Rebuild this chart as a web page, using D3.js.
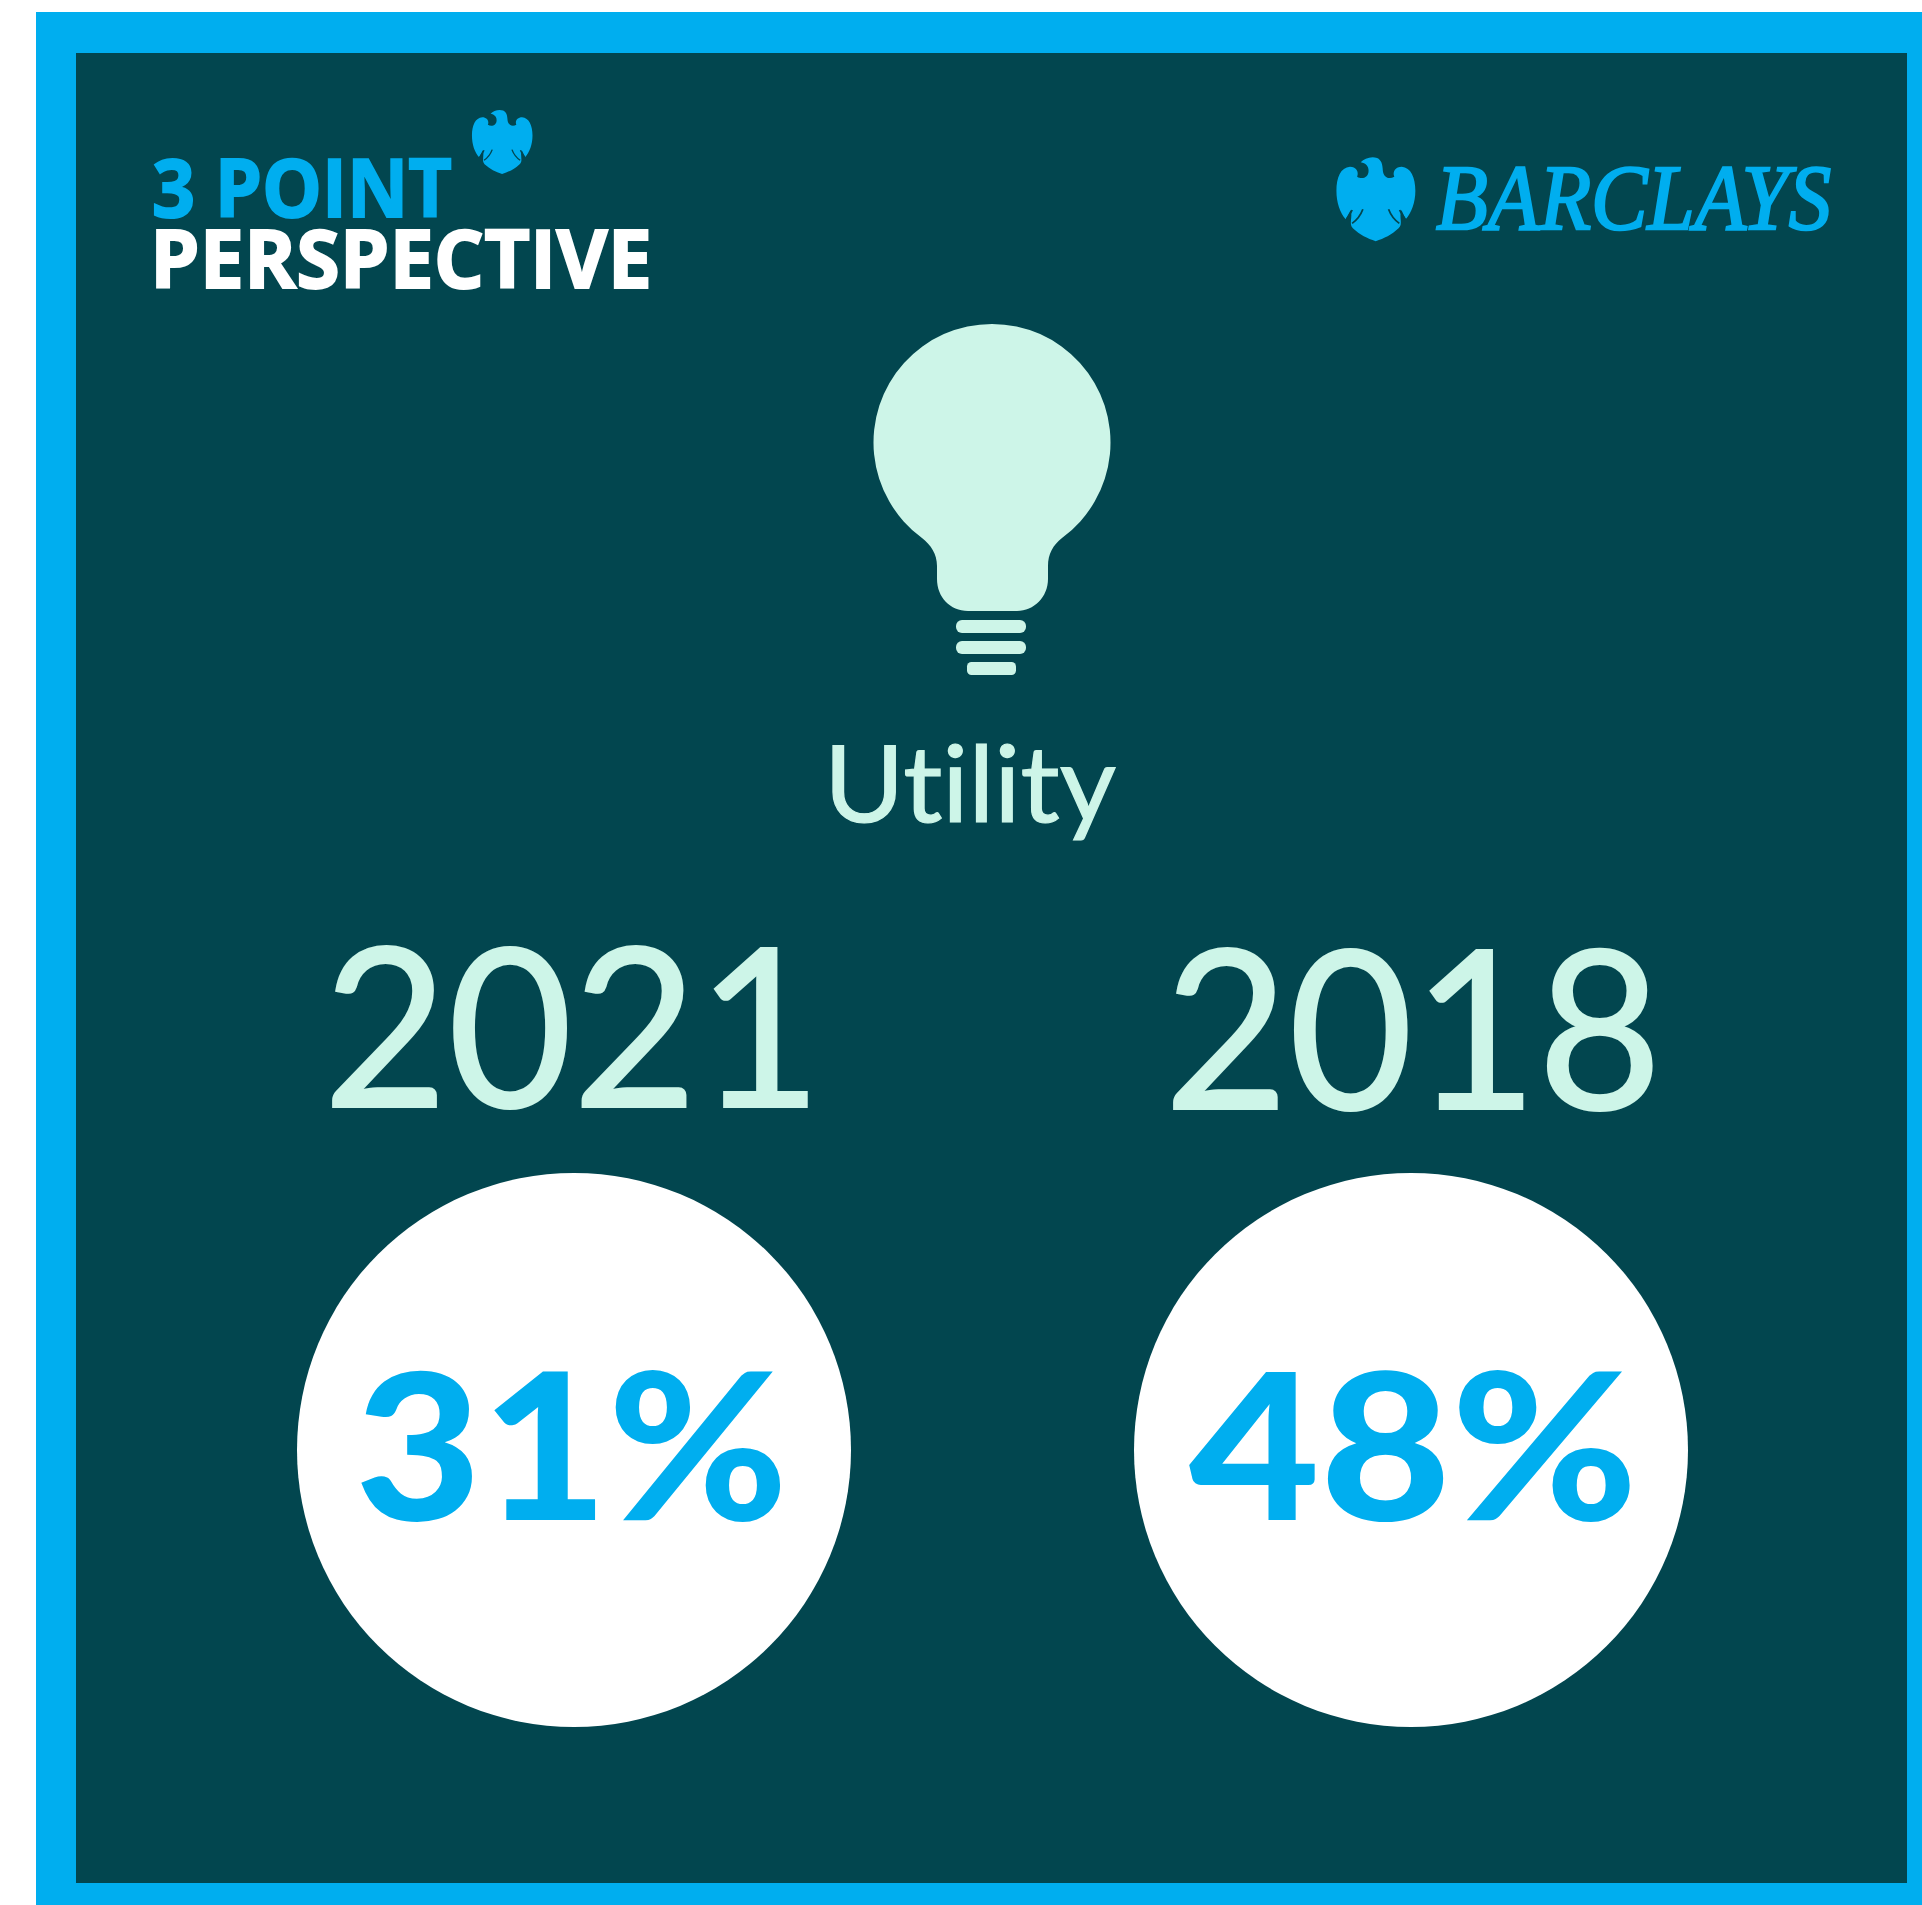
<!DOCTYPE html>
<html lang="en">
<head>
  <meta charset="UTF-8">
  <title>Utility</title>
  <script src="https://d3js.org/d3.v7.min.js"></script>
  <style>
    html, body { margin: 0; padding: 0; background: #fff; overflow: hidden; }
    svg { display: block; }
    text { font-variant-ligatures: none; font-kerning: normal; }
  </style>
</head>
<body>
  <script>
    const width = 1922, height = 1905;

    const category = 'Utility';
    const years = ['2021', '2018'];
    const shares = [31, 48];

    const blue = '#00aeef', dark = '#02464f', mint = '#cdf5e8';

    const svg = d3.select('body').append('svg')
      .attr('width', width)
      .attr('height', height)
      .style('background', '#fff');

    // frame
    svg.append('rect').attr('x', 36).attr('y', 12).attr('width', width - 36).attr('height', height - 12).attr('fill', blue);
    svg.append('rect').attr('x', 76).attr('y', 53).attr('width', 1831).attr('height', 1830).attr('fill', dark);

    const eagle = 'M170 97C180 86 198 78 216 84C228 90 231 102 232 122C234 142 250 150 264 140C258 124 268 110 285 110C310 112 323 142 323 182C323 218 312 248 296 268L284 240C276 262 290 282 276 295C256 315 236 325 212 334C188 325 168 315 148 295C136 282 148 262 142 240L128 268C112 248 102 218 102 182C102 142 114 112 140 110C156 110 166 124 160 140C174 150 192 142 192 122C192 108 184 100 170 97Z';
    const cuts = ['M130 268C138 255 142 250 146 240', 'M146 280C160 270 170 255 176 238', 'M295 268C287 255 283 250 279 240', 'M278 280C264 270 254 255 248 238'];

    function drawEagle(tx, ty, kx, ky) {
      const g = svg.append('g').attr('transform', `translate(${tx},${ty}) scale(${kx},${ky})`);
      g.append('path').attr('d', eagle).attr('fill', blue);
      g.selectAll('path.cut').data(cuts).join('path').attr('class', 'cut')
        .attr('d', d => d).attr('fill', 'none').attr('stroke', dark).attr('stroke-width', 5);
    }
    drawEagle(1300, 130, 1 / 2.8, 1 / 3);
    drawEagle(444, 89.2, 0.274, 0.254);

    function fitText(parent, txt, x0, x1, base, size, family, weight, fill, style, thick) {
      return parent.append('text')
        .attr('x', x0).attr('y', base)
        .attr('textLength', x1 - x0).attr('lengthAdjust', 'spacingAndGlyphs')
        .attr('font-family', family).attr('font-size', size).attr('font-weight', weight)
        .attr('font-style', style || 'normal').attr('fill', fill)
        .attr('stroke', thick ? fill : 'none').attr('stroke-width', thick || 0)
        .text(txt);
    }

    // logos
    fitText(svg, '3 POINT', 152, 452, 217, 81, '"Open Sans"', 700, blue, null, 2);
    fitText(svg, 'PERSPECTIVE', 150, 652, 288, 81, '"Open Sans"', 700, '#fff', null, 2);
    fitText(svg, 'BARCLAYS', 1436, 1831, 229, 94, '"Liberation Serif"', 400, blue, 'italic', 2.5);

    // bulb
    const bulb = svg.append('g').attr('fill', mint);
    bulb.append('path').attr('d', 'M922 538A118.5 118.5 0 1 1 1062 538C1053 545 1048 554 1048 566L1048 579C1048 597 1034 611 1017 611L968 611C950 611 937 597 937 579L937 566C937 554 931 545 922 538Z');
    bulb.append('rect').attr('x', 956).attr('y', 620).attr('width', 70).attr('height', 13).attr('rx', 6);
    bulb.append('rect').attr('x', 956).attr('y', 641).attr('width', 70).attr('height', 13).attr('rx', 6);
    bulb.append('rect').attr('x', 967).attr('y', 662).attr('width', 49).attr('height', 13).attr('rx', 4.5);

    fitText(svg, category, 824, 1116, 822, 106, 'Lato', 400, mint, null, 1.2);

    // year columns
    const x = d3.scalePoint().domain(years).range([574, 1411]);
    const r = 277;
    const cy = 1450;
    const yearSpan = [[323, 822], [1164, 1662]];
    const yearBase = [1107, 1109];
    const shareSpan = [[355, 788], [1189, 1638]];

    const col = svg.selectAll('g.col').data(years).join('g').attr('class', 'col');

    col.append('circle')
      .attr('cx', d => x(d)).attr('cy', cy).attr('r', r).attr('fill', '#fff');

    col.each(function (d, i) {
      const g = d3.select(this);
      fitText(g, d, yearSpan[i][0], yearSpan[i][1], yearBase[i], 222, 'Lato', 400, mint, null, 2);
      fitText(g, shares[i] + '%', shareSpan[i][0], shareSpan[i][1], 1520, 204, 'Lato', 900, blue);
    });
  </script>
</body>
</html>
